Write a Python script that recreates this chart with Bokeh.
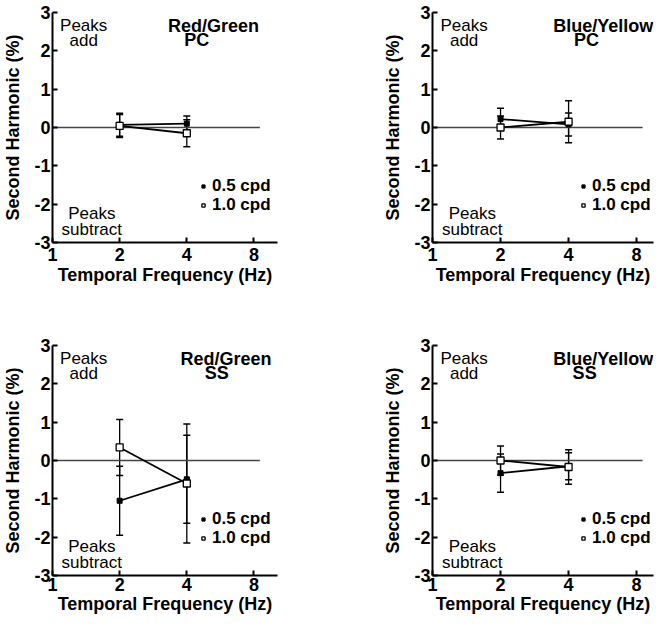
from bokeh.plotting import figure
from bokeh.models import (Range1d, FixedTicker, PrintfTickFormatter, Whisker, TeeHead,
                          ColumnDataSource, Label, Legend, LegendItem)
from bokeh.layouts import row, column
from bokeh.embed import file_html
from bokeh.resources import INLINE

# ---------------- data ----------------
freqs = [2, 4]                      # temporal frequency (Hz)
x_ticks = [1, 2, 4, 8]
y_ticks = [-3, -2, -1, 0, 1, 2, 3]
series_labels = ["0.5 cpd", "1.0 cpd"]
zero_line_x = [1, 8.5]
zero_line_y = [0, 0]

# Red/Green PC
rg_pc_05 = [0.07, 0.10]
rg_pc_05_err = [0.30, 0.20]
rg_pc_10 = [0.04, -0.15]
rg_pc_10_err = [0.30, 0.35]
# Blue/Yellow PC
by_pc_05 = [0.22, 0.08]
by_pc_05_err = [0.28, 0.30]
by_pc_10 = [0.00, 0.15]
by_pc_10_err = [0.30, 0.55]
# Red/Green SS
rg_ss_05 = [-1.05, -0.49]
rg_ss_05_err = [0.90, 1.15]
rg_ss_10 = [0.34, -0.60]
rg_ss_10_err = [0.73, 1.55]
# Blue/Yellow SS
by_ss_05 = [-0.33, -0.15]
by_ss_05_err = [0.50, 0.35]
by_ss_10 = [0.00, -0.17]
by_ss_10_err = [0.38, 0.45]

FONT = "Liberation Sans"
FS_BOLD = "18px"
FS_NOTE = "17px"


def make_panel(t1, t2, t1x, t2x, m05, e05, m10, e10, x_end, width, height, bl, br, bt, bb,
               xl_standoff, xa_standoff):
    p = figure(width=width, height=height, x_axis_type="log",
               x_range=Range1d(1, x_end), y_range=Range1d(-3, 3),
               toolbar_location=None, output_backend="svg",
               min_border_left=bl, min_border_right=br,
               min_border_top=bt, min_border_bottom=bb)
    p.outline_line_color = None
    p.xgrid.visible = False
    p.ygrid.visible = False
    p.background_fill_color = "white"
    p.border_fill_color = "white"

    p.xaxis.ticker = FixedTicker(ticks=x_ticks, minor_ticks=[])
    p.yaxis.ticker = FixedTicker(ticks=y_ticks, minor_ticks=[])
    p.xaxis.formatter = PrintfTickFormatter(format="%d")
    p.yaxis.formatter = PrintfTickFormatter(format="%d")
    p.xaxis.axis_label = "Temporal Frequency (Hz)"
    p.yaxis.axis_label = "Second Harmonic (%)"
    for ax in (p.xaxis[0], p.yaxis[0]):
        ax.axis_line_width = 2
        ax.axis_line_color = "black"
        ax.major_tick_in = 5
        ax.major_tick_out = 0
        ax.major_tick_line_width = 2
        ax.minor_tick_line_color = None
        ax.major_label_text_font = FONT
        ax.major_label_text_font_style = "bold"
        ax.major_label_text_font_size = FS_BOLD
        ax.major_label_text_color = "black"
        ax.axis_label_text_font = FONT
        ax.axis_label_text_font_style = "bold"
        ax.axis_label_text_font_size = FS_BOLD
        ax.axis_label_text_color = "black"
    p.yaxis.major_label_standoff = 2
    p.yaxis.axis_label_standoff = 8
    p.xaxis.major_label_standoff = xl_standoff
    p.xaxis.axis_label_standoff = xa_standoff

    p.line(zero_line_x, zero_line_y, line_color="#444444", line_width=1.5)

    for m, e in ((m05, e05), (m10, e10)):
        src = ColumnDataSource(dict(base=freqs,
                                    lower=[a - b for a, b in zip(m, e)],
                                    upper=[a + b for a, b in zip(m, e)]))
        w = Whisker(source=src, base="base", lower="lower", upper="upper",
                    line_color="black", line_width=1.3,
                    upper_head=TeeHead(size=7, line_color="black", line_width=1.5),
                    lower_head=TeeHead(size=7, line_color="black", line_width=1.5),
                    level="underlay")
        p.add_layout(w)

    p.line(freqs, m05, line_color="black", line_width=1.8)
    p.line(freqs, m10, line_color="black", line_width=1.8)
    r05 = p.scatter(freqs, m05, marker="square", size=5,
                    fill_color="black", line_color="black")
    r10 = p.scatter(freqs, m10, marker="square", size=7,
                    fill_color="white", line_color="black", line_width=1.3)

    def lab(x, y, text, style, size):
        p.add_layout(Label(x=x, y=y, text=text, text_align="center",
                           text_baseline="middle", text_font=FONT,
                           text_font_size=size, text_font_style=style,
                           text_color="black"))

    lab(1.38, 2.65, "Peaks", "normal", FS_NOTE)
    lab(1.38, 2.27, "add", "normal", FS_NOTE)
    lab(1.50, -2.24, "Peaks", "normal", FS_NOTE)
    lab(1.50, -2.66, "subtract", "normal", FS_NOTE)
    lab(t1x, 2.65, t1, "bold", FS_BOLD)
    lab(t2x, 2.27, t2, "bold", FS_BOLD)

    for r, lbl, ypos in ((r05, series_labels[0], 46), (r10, series_labels[1], 27)):
        leg = Legend(items=[LegendItem(label=lbl, renderers=[r])],
                     location=(147, ypos),
                     background_fill_alpha=0, border_line_alpha=0,
                     padding=0, margin=0, spacing=0,
                     glyph_width=8, glyph_height=14, label_height=14,
                     label_standoff=5, label_text_font=FONT,
                     label_text_font_style="bold", label_text_font_size=FS_NOTE,
                     label_text_color="black")
        p.add_layout(leg)
    return p


# left column: frame 228 px wide (1..10.2), right column: 221 px (1..9.5)
p1 = make_panel("Red/Green", "PC", 5.27, 4.43, rg_pc_05, rg_pc_05_err, rg_pc_10, rg_pc_10_err,
                10.2, 330, 333, 49, 53, 12, 86, 5, 1)
p2 = make_panel("Blue/Yellow", "PC", 5.7, 4.8, by_pc_05, by_pc_05_err, by_pc_10, by_pc_10_err,
                9.5, 324, 333, 102, 1, 7, 91, 5, 1)
p3 = make_panel("Red/Green", "SS", 6.0, 5.45, rg_ss_05, rg_ss_05_err, rg_ss_10, rg_ss_10_err,
                10.2, 330, 288, 49, 53, 12, 41, 2, 0)
p4 = make_panel("Blue/Yellow", "SS", 5.7, 4.71, by_ss_05, by_ss_05_err, by_ss_10, by_ss_10_err,
                9.5, 324, 288, 102, 1, 7, 46, 2, 0)

layout = column(row(p1, p2), row(p3, p4))
open("out.html", "w").write(file_html(layout, INLINE))
